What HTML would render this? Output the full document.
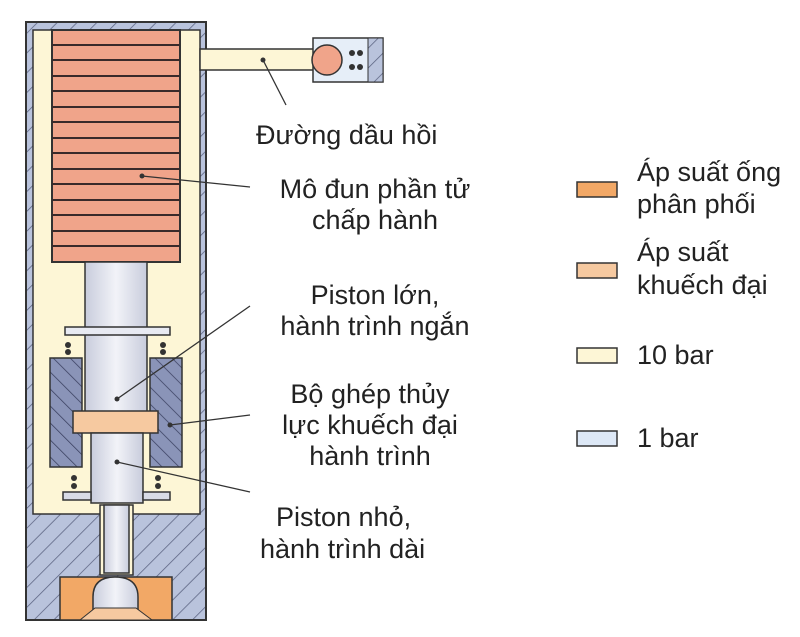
<!DOCTYPE html>
<html><head><meta charset="utf-8"><style>
html,body{margin:0;padding:0;background:#fff}
svg{display:block}
text{font-family:"Liberation Sans",sans-serif;font-size:27px;fill:#222}
</style></head><body>
<svg width="800" height="637" viewBox="0 0 800 637">
<defs>
<pattern id="h" width="14" height="14" patternUnits="userSpaceOnUse" patternTransform="rotate(45)">
<rect width="14" height="14" fill="#b9c3dc"/><line x1="0" y1="0" x2="0" y2="14" stroke="#5a6280" stroke-width="1.5"/></pattern>
<pattern id="hd" width="12" height="12" patternUnits="userSpaceOnUse" patternTransform="rotate(-45)">
<rect width="12" height="12" fill="#8a94b8"/><line x1="0" y1="0" x2="0" y2="12" stroke="#3a4060" stroke-width="1.5"/></pattern>
<linearGradient id="pg" x1="0" x2="1"><stop offset="0" stop-color="#c8ccdc"/><stop offset="0.5" stop-color="#f2f3f8"/><stop offset="1" stop-color="#c8ccdc"/></linearGradient>
</defs>
<rect x="26" y="22" width="180" height="598" fill="url(#h)" stroke="#333" stroke-width="2"/>
<rect x="33" y="30" width="167" height="484" fill="#fdf6d6" stroke="#333" stroke-width="1.5"/>
<rect x="52" y="30" width="128" height="232" fill="#f0a48a" stroke="#333" stroke-width="2"/>
<g stroke="#3a2a2a" stroke-width="2">
<line x1="52" y1="45" x2="180" y2="45"/><line x1="52" y1="60" x2="180" y2="60"/><line x1="52" y1="76" x2="180" y2="76"/>
<line x1="52" y1="91" x2="180" y2="91"/><line x1="52" y1="107" x2="180" y2="107"/><line x1="52" y1="122" x2="180" y2="122"/>
<line x1="52" y1="138" x2="180" y2="138"/><line x1="52" y1="153" x2="180" y2="153"/><line x1="52" y1="169" x2="180" y2="169"/>
<line x1="52" y1="184" x2="180" y2="184"/><line x1="52" y1="200" x2="180" y2="200"/><line x1="52" y1="215" x2="180" y2="215"/>
<line x1="52" y1="231" x2="180" y2="231"/><line x1="52" y1="246" x2="180" y2="246"/>
</g>
<rect x="85" y="262" width="62" height="153" fill="url(#pg)" stroke="#333" stroke-width="1.5"/>
<rect x="65" y="327" width="105" height="8" fill="#e8eaf2" stroke="#333" stroke-width="1.5"/>
<g fill="#333"><circle cx="68" cy="345" r="3"/><circle cx="68" cy="352" r="3"/><circle cx="163" cy="345" r="3"/><circle cx="163" cy="352" r="3"/>
<circle cx="74" cy="478" r="3"/><circle cx="74" cy="486" r="3"/><circle cx="158" cy="478" r="3"/><circle cx="158" cy="486" r="3"/></g>
<rect x="50" y="358" width="32" height="109" fill="url(#hd)" stroke="#333" stroke-width="1.5"/>
<rect x="150" y="358" width="32" height="109" fill="url(#hd)" stroke="#333" stroke-width="1.5"/>
<rect x="73" y="411" width="85" height="22" fill="#f6c9a0" stroke="#333" stroke-width="1.5"/>
<rect x="91" y="433" width="52" height="70" fill="url(#pg)" stroke="#333" stroke-width="1.5"/>
<rect x="63" y="492" width="28" height="8" fill="#d8dbe6" stroke="#333" stroke-width="1.5"/>
<rect x="143" y="492" width="27" height="8" fill="#d8dbe6" stroke="#333" stroke-width="1.5"/>
<rect x="100" y="505" width="33" height="70" fill="#fdf6d6" stroke="#333" stroke-width="1.5"/>
<rect x="104" y="505" width="25" height="68" fill="url(#pg)" stroke="#333" stroke-width="1.5"/>
<rect x="60" y="577" width="112" height="43" fill="#f2a866" stroke="#333" stroke-width="1.5"/>
<path d="M93 615 L93 597 Q93 577 115 577 Q138 577 138 597 L138 615 Z" fill="url(#pg)" stroke="#333" stroke-width="1.5"/>
<path d="M80 620 L95 608 L136 608 L152 620 Z" fill="#f6c9a0" stroke="#333" stroke-width="1"/>
<rect x="200" y="49" width="118" height="21" fill="#fdf6d6" stroke="#333" stroke-width="1.5"/>
<rect x="313" y="38" width="70" height="44" fill="#e6eef8" stroke="#333" stroke-width="1.5"/>
<rect x="368" y="38" width="15" height="44" fill="url(#h)" stroke="#333" stroke-width="1"/>
<g fill="#333"><circle cx="352" cy="53" r="3"/><circle cx="360" cy="53" r="3"/><circle cx="352" cy="67" r="3"/><circle cx="360" cy="67" r="3"/></g>
<circle cx="327" cy="60" r="15" fill="#f0a48a" stroke="#333" stroke-width="1.5"/>
<g stroke="#333" stroke-width="1.3" fill="none">
<line x1="263" y1="60" x2="286" y2="105"/>
<line x1="142" y1="176" x2="250" y2="187"/>
<line x1="117" y1="399" x2="250" y2="306"/>
<line x1="170" y1="425" x2="250" y2="415"/>
<line x1="117" y1="462" x2="250" y2="492"/>
</g>
<g fill="#333"><circle cx="263" cy="60" r="2.5"/><circle cx="142" cy="176" r="2.5"/><circle cx="117" cy="399" r="2.5"/><circle cx="170" cy="425" r="2.5"/><circle cx="117" cy="462" r="2.5"/></g>
<text x="256" y="144">Đường dầu hồi</text>
<text x="375" y="198" text-anchor="middle">Mô đun phần tử</text>
<text x="375" y="229" text-anchor="middle">chấp hành</text>
<text x="375" y="304" text-anchor="middle">Piston lớn,</text>
<text x="375" y="335" text-anchor="middle">hành trình ngắn</text>
<text x="370" y="403" text-anchor="middle">Bộ ghép thủy</text>
<text x="370" y="434" text-anchor="middle">lực khuếch đại</text>
<text x="370" y="465" text-anchor="middle">hành trình</text>
<text x="276" y="526">Piston nhỏ,</text>
<text x="260" y="558">hành trình dài</text>
<rect x="577" y="182" width="40" height="15" fill="#f2a866" stroke="#333" stroke-width="1.5"/>
<rect x="577" y="263" width="40" height="15" fill="#f6c9a0" stroke="#333" stroke-width="1.5"/>
<rect x="577" y="348" width="40" height="15" fill="#fdf6d6" stroke="#333" stroke-width="1.5"/>
<rect x="577" y="431" width="40" height="15" fill="#dde8f6" stroke="#333" stroke-width="1.5"/>
<text x="637" y="181">Áp suất ống</text>
<text x="637" y="213">phân phối</text>
<text x="637" y="261">Áp suất</text>
<text x="637" y="294">khuếch đại</text>
<text x="637" y="364">10 bar</text>
<text x="637" y="447">1 bar</text>
</svg>
</body></html>
